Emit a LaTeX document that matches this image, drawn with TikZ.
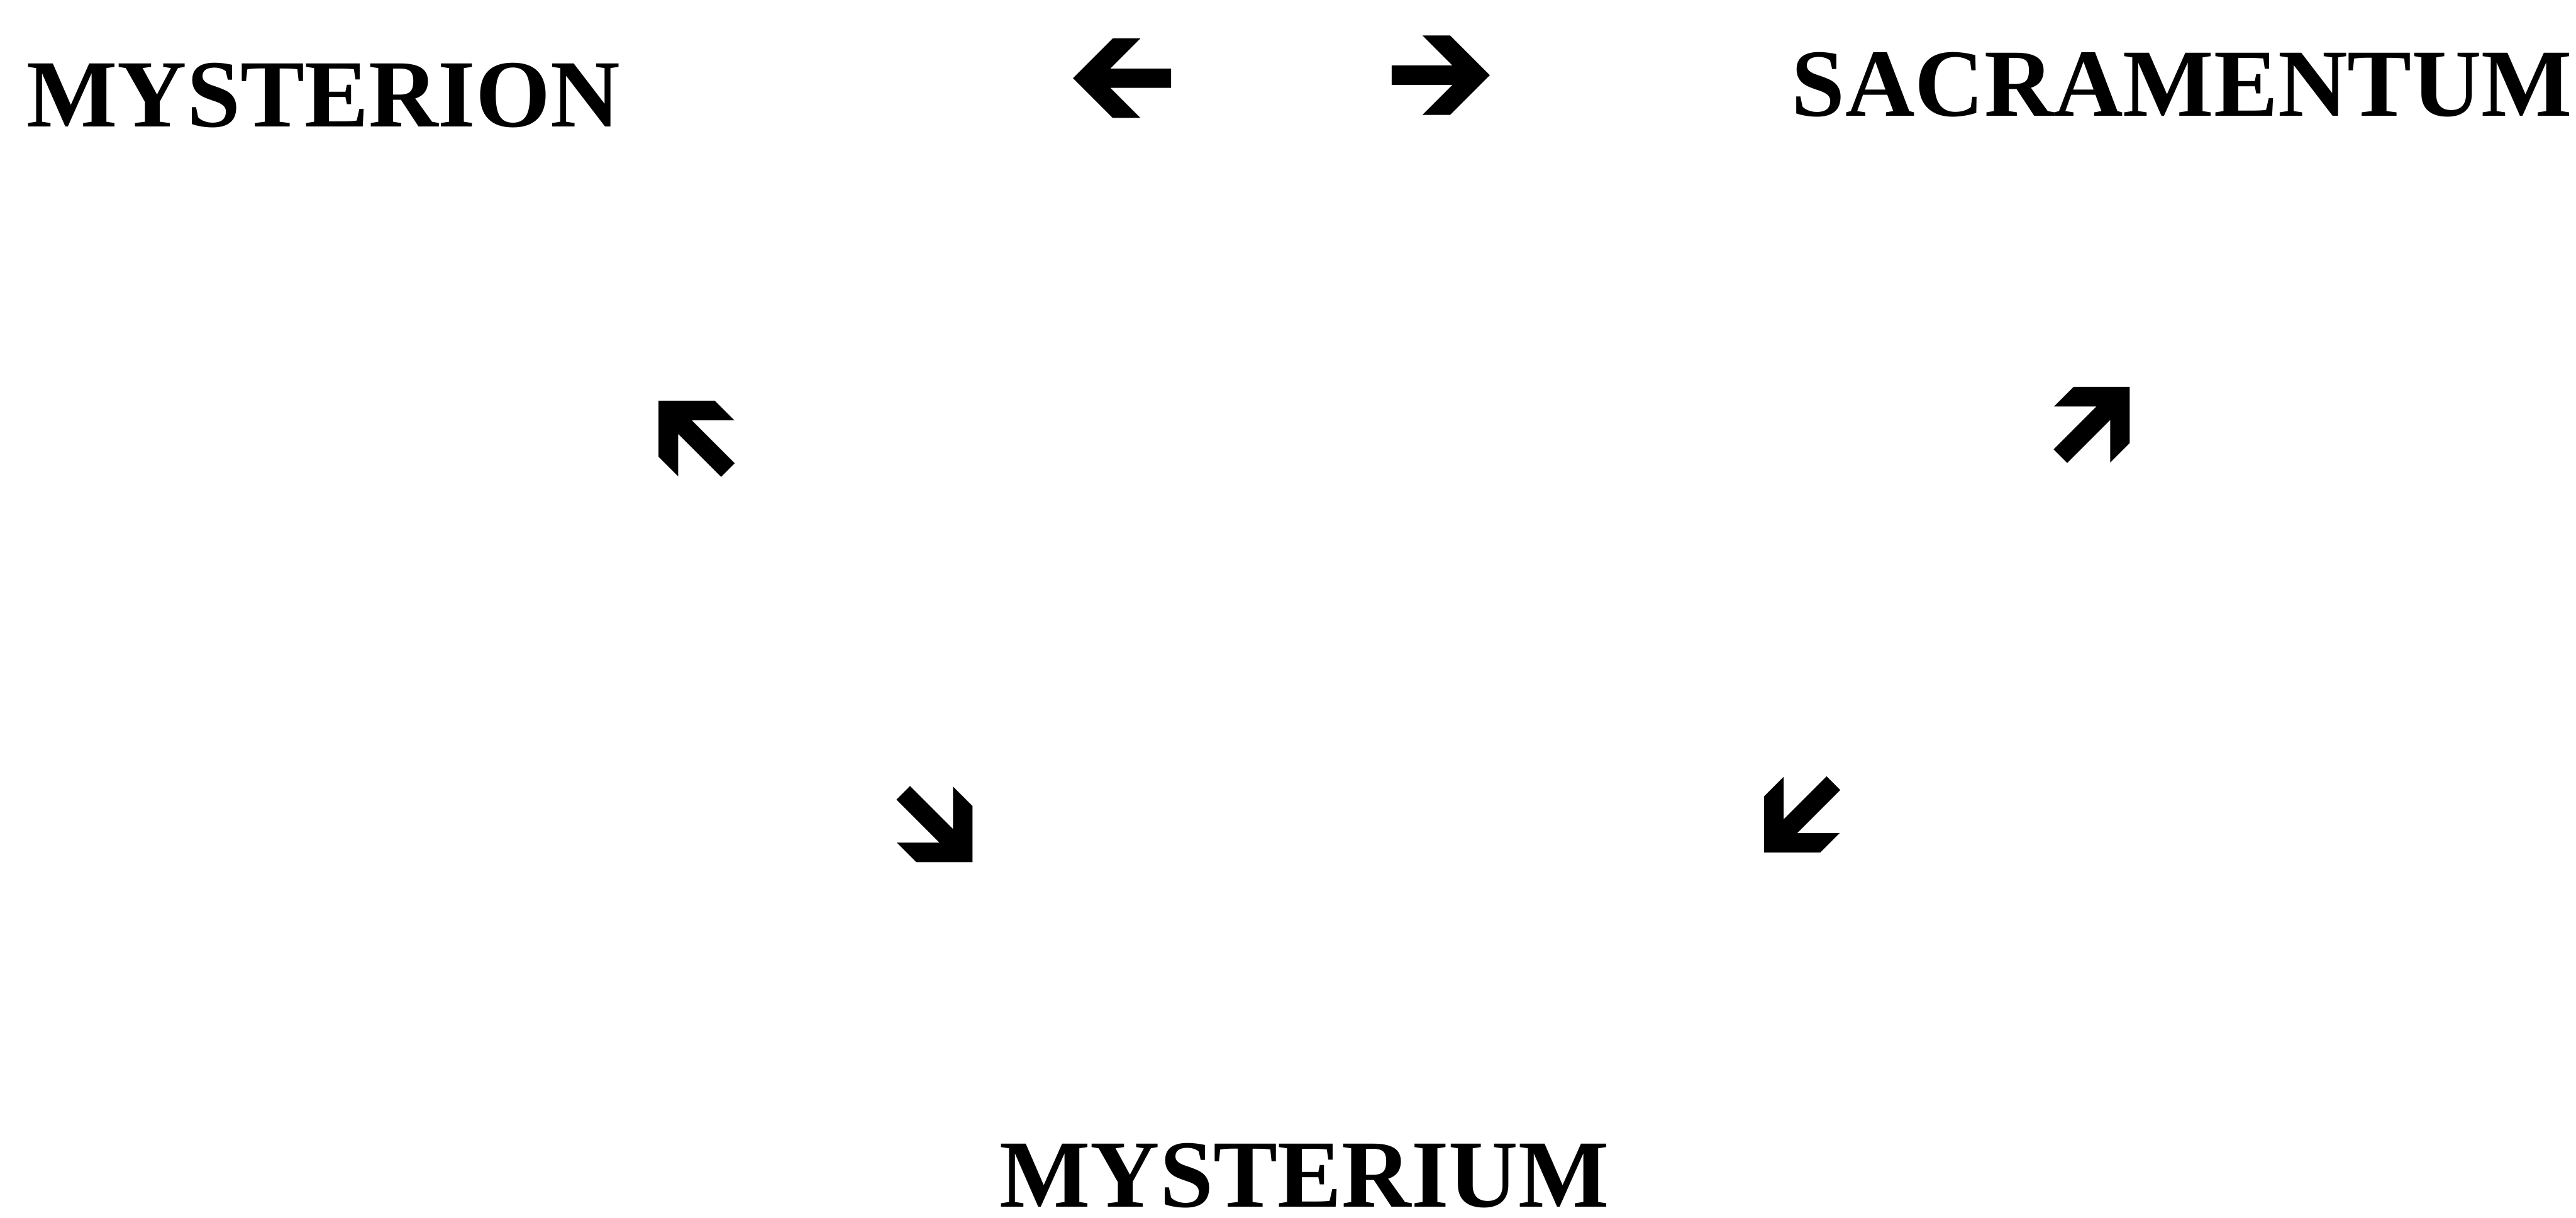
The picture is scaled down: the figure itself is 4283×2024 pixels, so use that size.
\documentclass[tikz,border=0pt]{standalone}
\usepackage{fontspec}
\setmainfont{Liberation Serif}
\begin{document}
\begin{tikzpicture}[x=0.01cm,y=-0.01cm,
  word/.style={inner sep=0pt,outer sep=0pt,text depth=0pt,font=\fontsize{45.5}{50}\selectfont\bfseries},
  blockarr/.pic={\fill[black] (0,0) -- (-66,-66) -- (-112,-66) -- (-62,-16) -- (-163,-16)
     -- (-163,16) -- (-62,16) -- (-112,66) -- (-66,66) -- cycle;}]
\useasboundingbox (0,0) rectangle (4283,2024);
\node[word,anchor=base west] (mysterion) at (44,211) {MYSTERION};
\node[word,anchor=base west] (sacramentum) at (2979,193) {SACRAMENTUM};
\node[word,anchor=base west] (mysterium) at (1662,2006) {MYSTERIUM};
% horizontal arrows
\pic[rotate=180] at (1784,130) {blockarr};
\pic[rotate=0] at (2477,125) {blockarr};
% diagonal arrows
\pic[rotate=135] at (1095,666) {blockarr};
\pic[rotate=45] at (3541,643) {blockarr};
\pic[rotate=-45] at (1617,1433) {blockarr};
\pic[rotate=-135] at (2933,1417) {blockarr};
\end{tikzpicture}
\end{document}
